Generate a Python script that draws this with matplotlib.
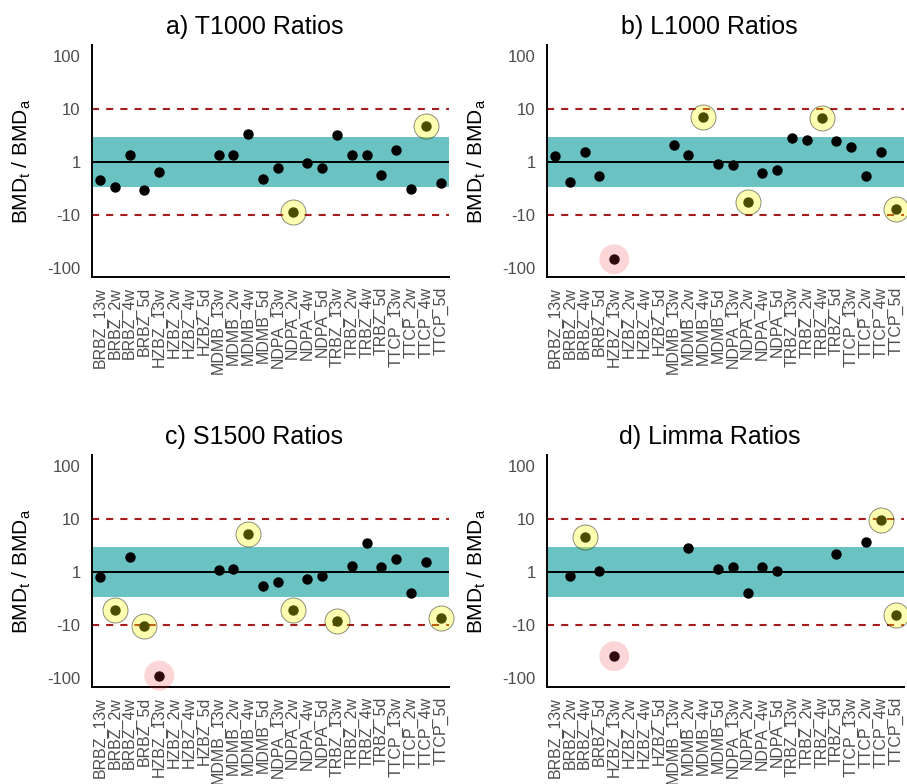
import matplotlib
matplotlib.use('Agg')
import matplotlib.pyplot as plt
import numpy as np

plt.rcParams['font.family'] = ['Liberation Sans', 'DejaVu Sans']
plt.rcParams['mathtext.fontset'] = 'custom'
plt.rcParams['mathtext.rm'] = 'Liberation Sans'
plt.rcParams['mathtext.it'] = 'Liberation Sans'

# categories (chemical_duration)
labels = ['BRBZ_13w', 'BRBZ_2w', 'BRBZ_4w', 'BRBZ_5d',
          'HZBZ_13w', 'HZBZ_2w', 'HZBZ_4w', 'HZBZ_5d',
          'MDMB_13w', 'MDMB_2w', 'MDMB_4w', 'MDMB_5d',
          'NDPA_13w', 'NDPA_2w', 'NDPA_4w', 'NDPA_5d',
          'TRBZ_13w', 'TRBZ_2w', 'TRBZ_4w', 'TRBZ_5d',
          'TTCP_13w', 'TTCP_2w', 'TTCP_4w', 'TTCP_5d']

nan = np.nan
# signed fold ratios BMDt/BMDa (negative = BMDa larger)
t1000 = [-2.22, -3.0, 1.35, -3.4, -1.57, nan, nan, nan,
         1.35, 1.35, 3.44, -2.09, -1.30, -8.7, -1.03, -1.30,
         3.2, 1.34, 1.34, -1.78, 1.66, -3.3, 4.7, -2.5]
l1000 = [1.30, -2.4, 1.52, -1.86, -69, nan, nan, nan,
         2.07, 1.34, 7.0, -1.11, -1.12, -5.8, -1.61, -1.42,
         2.84, 2.61, 6.7, 2.54, 1.95, -1.84, 1.55, -7.9]
s1500 = [-1.26, -5.2, 1.90, -10.5, -91, nan, nan, nan,
         1.07, 1.12, 5.2, -1.82, -1.55, -5.3, -1.34, -1.17,
         -8.3, 1.28, 3.6, 1.22, 1.76, -2.5, 1.52, -7.5]
limma = [nan, -1.19, 4.5, 1.04, -39, nan, nan, nan,
         nan, 2.88, nan, 1.12, 1.24, -2.54, 1.24, 1.06,
         nan, nan, nan, 2.19, nan, 3.63, 9.5, -6.6]

panels = [('a) T1000 Ratios', t1000), ('b) L1000 Ratios', l1000),
          ('c) S1500 Ratios', s1500), ('d) Limma Ratios', limma)]

def to_scale(v):
    v = np.asarray(v, dtype=float)
    return np.sign(v) * np.log10(np.abs(v))

fig = plt.figure(figsize=(9.07, 7.84), dpi=100)
W, H = 907., 784.
boxes = [(91.7, 45, 449, 277.3), (546.7, 45, 904, 277.3),
         (91.7, 455, 449, 687.3), (546.7, 455, 904, 687.3)]

x = np.arange(1, len(labels) + 1)
for (title, vals), (l, t, r, b) in zip(panels, boxes):
    ax = fig.add_axes([l / W, 1 - b / H, (r - l) / W, (b - t) / H])
    y = to_scale(vals)
    ok = ~np.isnan(y)
    ax.axhspan(-np.log10(3), np.log10(3), color='#6AC3C2', lw=0, zorder=1)
    ax.axhline(0, color='black', lw=1.4, zorder=2)
    for yy in (-1, 1):
        ax.axhline(yy, color='#A61C1C', lw=1.5, dashes=(3.4, 3.4), zorder=2)
    ax.scatter(x[ok], y[ok], s=42, color='black', zorder=3, clip_on=False)
    a = np.where(ok, np.abs(y), 0)
    warn = (a > np.log10(4)) & (a <= np.log10(20))
    bad = a > np.log10(20)
    if warn.any():
        ax.scatter(x[warn], y[warn], s=18**2, facecolor=(1, 1, 0, 0.3),
                   edgecolor=(0, 0, 0, 0.45), lw=0.7, zorder=4, clip_on=False)
    if bad.any():
        ax.scatter(x[bad], y[bad], s=21.5**2, facecolor=(0.95, 0.2, 0.2, 0.2),
                   edgecolor='none', zorder=4, clip_on=False)

    ax.set_xlim(0.44, 24.56)
    ax.set_ylim(-2.18, 2.21)
    ax.set_xticks(x)
    ax.set_xticklabels(labels, rotation=90, va='top', ha='center')
    ax.set_yticks([-2, -1, 0, 1, 2])
    ax.set_yticklabels(['-100', '-10', '1', '10', '100'])
    ax.tick_params(axis='x', length=0, pad=7, labelsize=11.5, labelcolor='#4D4D4D')
    ax.tick_params(axis='y', length=0, pad=8, labelsize=12, labelcolor='#4D4D4D')
    for s in ('top', 'right'):
        ax.spines[s].set_visible(False)
    for s in ('left', 'bottom'):
        ax.spines[s].set_linewidth(1.4)
    ax.set_ylabel(r'BMD$_\mathrm{t}$ / BMD$_\mathrm{a}$', fontsize=15)
    ax.yaxis.set_label_coords(-0.165, 0.5)
    ax.set_title(title, fontsize=18, x=0.455, pad=8)

fig.savefig('out.png', dpi=100)
